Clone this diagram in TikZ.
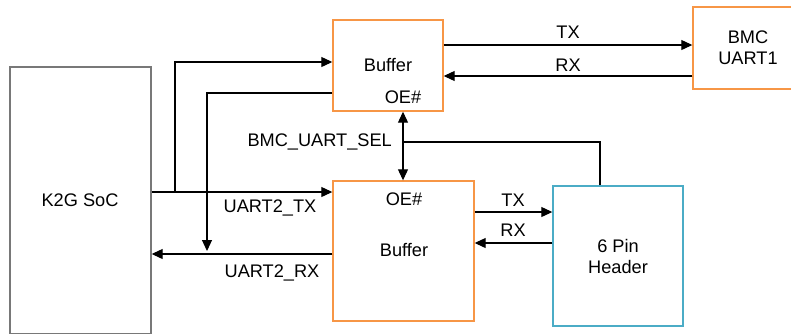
\documentclass[tikz,border=0pt]{standalone}
\usepackage{fontspec}
\setmainfont{Liberation Sans}
\usetikzlibrary{arrows.meta}
\definecolor{boxorange}{RGB}{247,150,70}
\definecolor{boxcyan}{RGB}{75,172,198}
\definecolor{boxgray}{RGB}{120,120,120}
\begin{document}
\begin{tikzpicture}[x=1pt,y=-1pt,
  txt/.style={font=\fontsize{18.2}{21}\selectfont, inner sep=0pt, align=center},
  blk/.style={draw, line width=1.4pt, inner sep=0pt, minimum width=#1},
  arr/.style={line width=1.1pt, -{Triangle[length=11pt,width=10pt]}},
  wire/.style={line width=1.1pt}]
\useasboundingbox (0,0) rectangle (791,333);
\clip (0,0) rectangle (791,333);
% blocks
\node[blk=141pt, draw=boxgray, minimum height=267pt] (soc) at (80.5,200.5) {};
\node[txt] (soclbl) at (80,200) {K2G SoC};
\node[blk=110pt, draw=boxorange, minimum height=91pt] (buf1) at (388,65.5) {};
\node[txt] (buf1lbl) at (388,65) {Buffer};
\node[txt] (buf1oe) at (403,97) {OE\#};
\node[blk=110pt, draw=boxorange, minimum height=82pt] (bmc) at (748,48) {};
\node[txt] (bmclbl) at (748,48) {BMC\\UART1};
\node[blk=141pt, draw=boxorange, minimum height=140pt] (buf2) at (403.5,251) {};
\node[txt] (buf2lbl) at (404,250) {Buffer};
\node[txt] (buf2oe) at (404,199) {OE\#};
\node[blk=130pt, draw=boxcyan, minimum height=140pt] (hdr) at (618,256) {};
\node[txt] (hdrlbl) at (618,256) {6 Pin\\Header};
% top TX/RX
\draw[arr] (buf1.east |- 0,45) -- (bmc.west |- 0,45);
\draw[arr] (bmc.west |- 0,76) -- (buf1.east |- 0,76);
\node[txt] (ttx) at (568,32) {TX};
\node[txt] (trx) at (568,65) {RX};
% bottom TX/RX
\draw[arr] (buf2.east |- 0,212) -- (hdr.west |- 0,212);
\draw[arr] (hdr.west |- 0,243) -- (buf2.east |- 0,243);
\node[txt] (btx) at (513,200) {TX};
\node[txt] (brx) at (513,230) {RX};
% SoC side
\coordinate (br) at (175,192);
\draw[arr] (soc.east |- br) -- (buf2.west |- br);
\draw[arr] (br) -- (175,62) -- (buf1.west |- 0,62);
\draw[arr] (buf1.west |- 0,93) -- (207,93) -- (207,251);
\draw[arr] (buf2.west |- 0,254) -- (soc.east |- 0,254);
\node[txt] (u2tx) at (270,208) {UART2\_TX};
\node[txt] (u2rx) at (272,273) {UART2\_RX};
% select
\coordinate (sel) at (403,142);
\draw[wire] (hdr.north -| 600,0) -- (600,142) -- (sel);
\draw[arr] (sel) -- (buf1.south -| sel);
\draw[arr] (sel) -- (buf2.north -| sel);
\node[txt, anchor=east] (sellbl) at (392,142) {BMC\_UART\_SEL};
\end{tikzpicture}
\end{document}
